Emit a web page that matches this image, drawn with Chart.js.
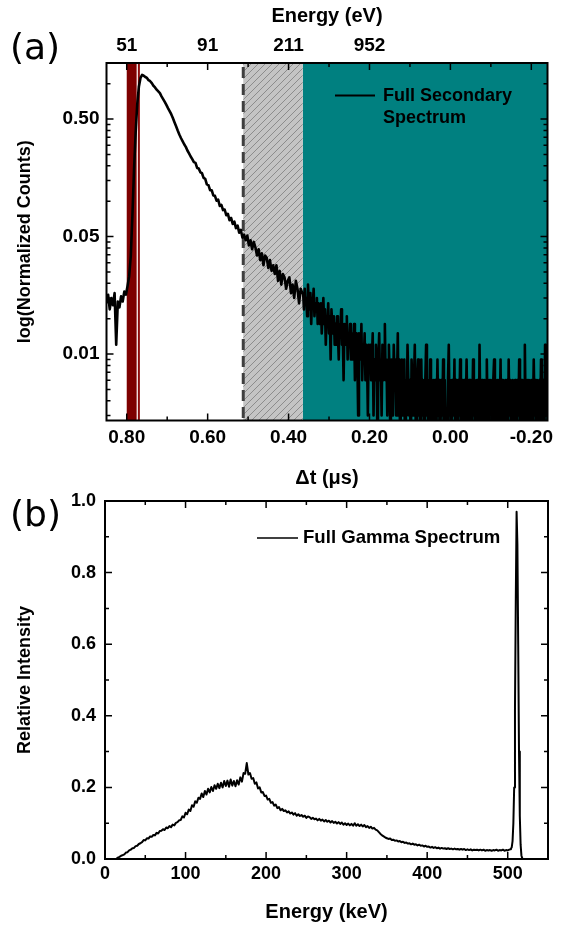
<!DOCTYPE html>
<html>
<head>
<meta charset="utf-8">
<script src="https://cdn.jsdelivr.net/npm/chart.js@4.4.1/dist/chart.umd.min.js"></script>
<style>
  html, body { margin: 0; padding: 0; background: #fff; width: 569px; height: 925px; overflow: hidden; }
  #wa { position: absolute; left: 0; top: 0; width: 569px; height: 490px; }
  #wb { position: absolute; left: 0; top: 490px; width: 569px; height: 435px; }
  .lbl { position: absolute; left: 10px; font-family: "DejaVu Sans", sans-serif; font-size: 36px; line-height: 36px; color: #000; }
</style>
</head>
<body>
<div id="wa"><canvas id="ca"></canvas></div>
<div id="wb"><canvas id="cb"></canvas></div>
<div class="lbl" style="top:29px">(a)</div>
<div class="lbl" style="top:496px">(b)</div>
<script>
// ---------------- Panel (a) data ----------------
// head: 0.85 -> 0.366 µs every 0.004 µs
const T_START = 0.85, T_STEP = -0.004;
const secValues = [
  0.0135,0.0160,0.0120,0.0150,0.0130,0.0165,0.0060,0.0140,0.0125,0.0155,
  0.0140,0.0170,0.0160,0.019,0.023,0.034,0.075,0.184,0.38,0.67,
  0.94,1.12,1.19,1.17,1.14,1.12,1.07,1.05,1.01,0.96,
  0.93,0.89,0.86,0.83,0.78,0.74,0.70,0.66,0.62,0.585,
  0.55,0.51,0.47,0.435,0.40,0.37,0.345,0.325,0.305,0.29,
  0.27,0.255,0.24,0.228,0.215,0.212,0.192,0.190,0.176,0.173,
  0.158,0.155,0.139,0.137,0.124,0.124,0.112,0.111,0.101,0.103,
  0.091,0.093,0.084,0.085,0.076,0.078,0.069,0.072,0.064,0.067,
  0.059,0.062,0.054,0.057,0.049,0.052,0.0465,0.051,0.042,0.0465,
  0.039,0.045,0.0405,0.0345,0.039,0.0315,0.036,0.0285,0.0345,0.033,
  0.027,0.0315,0.0255,0.0285,0.024,0.0285,0.021,0.0255,0.0195,0.024,
  0.0225,0.018,0.021,0.0225,0.0165,0.0195,0.015,0.021,0.018,0.0135,
  0.018,0.0165
];
// tail: 0.364 -> -0.25 µs every 0.002 µs (low-count, noisy part)
const TAIL_START = 0.364, TAIL_STEP = -0.002;
const tailValues = [
  0.0165,0.012,0.018,0.0135,0.015,0.0105,0.0195,0.0135,0.012,0.0165,0.009,0.015,0.0135,0.018,0.0105,0.0135,0.012,0.015,0.009,0.0135,
  0.012,0.009,0.0135,0.0075,0.0105,0.015,0.009,0.012,0.006,0.0105,0.009,0.0135,0.0075,0.0105,0.0045,0.012,0.009,0.0075,0.0105,0.006,
  0.009,0.006,0.0105,0.0075,0.0045,0.009,0.0075,0.012,0.006,0.0075,0.003,0.009,0.006,0.0075,0.0105,0.0045,0.0075,0.006,0.009,0.0045,
  0.0075,0.0045,0.006,0.009,0.003,0.006,0.0075,0.0045,0.0015,0.0075,0.006,0.0045,0.009,0.003,0.006,0.0045,0.0075,0.003,0.006,0.0045,0.0015,0.006,0.0045,
  0.006,0.003,0.0045,0.0075,0.0015,0.0045,0.003,0.006,0.0045,0.0005,0.0045,0.0075,0.003,0.0045,0.0015,0.006,0.003,0.0045,0.009,0.003,
  0.0045,0.0015,0.003,0.006,0.003,0.0005,0.0045,0.003,0.0015,0.006,0.003,0.0045,0.0015,0.003,0.0075,0.0015,0.0045,0.0005,0.003,0.0045,
  0.0015,0.003,0.0045,0.0005,0.003,0.0015,0.006,0.003,0.0015,0.003,0.0005,0.0045,0.003,0.0015,0.003,0.006,0.0015,0.0005,0.003,0.0045,
  0.0015,0.003,0.0005,0.0045,0.0015,0.003,0.0015,0.0005,0.003,0.006,0.0015,0.003,0.0005,0.0015,0.0045,0.003,0.0015,0.0005,0.003,0.0015,
  0.003,0.0005,0.0015,0.0045,0.0015,0.003,0.0005,0.0015,0.003,0.0015,0.0045,0.0005,0.003,0.0015,0.0015,0.0005,0.003,0.006,0.0015,0.003,
  0.0005,0.003,0.0015,0.0015,0.0045,0.0005,0.003,0.0015,0.0005,0.003,0.0015,0.0045,0.0015,0.0005,0.003,0.0015,0.003,0.0005,0.0015,0.0045,
  0.0015,0.0005,0.003,0.0015,0.003,0.0005,0.0015,0.0045,0.0015,0.003,0.0005,0.0015,0.003,0.0015,0.0005,0.006,0.0015,0.003,0.0005,0.003,
  0.0015,0.003,0.0005,0.0015,0.0045,0.0015,0.0005,0.003,0.0015,0.003,0.0015,0.0005,0.003,0.0045,0.0015,0.0005,0.0015,0.003,0.0005,0.003,
  0.0015,0.0045,0.0005,0.003,0.0015,0.0015,0.0005,0.003,0.0015,0.003,0.0005,0.0045,0.0015,0.003,0.0015,0.0005,0.003,0.0015,0.0005,0.003,
  0.0015,0.0005,0.003,0.0015,0.0045,0.0015,0.0005,0.003,0.003,0.0005,0.0015,0.006,0.0015,0.0005,0.003,0.0015,0.003,0.0005,0.0015,0.003,
  0.0005,0.0015,0.0045,0.0015,0.003,0.0005,0.003,0.0015,0.0005,0.003,0.0015,0.0045,0.0005,0.0015,0.003,0.0005,0.006,0.0015,0.003,0.0015,
  0.0005,0.003,0.0015,0.0045,0.0015
];
const T_MIN = -0.24, T_MAX = 0.85;
const Y_MIN_A = 0.00136, Y_MAX_A = 1.5;
const dtTicks = [0.8, 0.6, 0.4, 0.2, 0.0, -0.2];
const dtLabels = ['0.80', '0.60', '0.40', '0.20', '0.00', '-0.20'];
const dtMinor = [0.7, 0.5, 0.3, 0.1, -0.1];
const energyTicks = [0.8, 0.6, 0.4, 0.2];
const energyLabels = ['51', '91', '211', '952'];
const countTicks = [0.5, 0.05, 0.005];
const countLabels = ['0.50', '0.05', '0.01'];
const countMinor = [1.0, 0.45, 0.4, 0.35, 0.3, 0.25, 0.2, 0.15, 0.1,
                    0.045, 0.04, 0.035, 0.03, 0.025, 0.02, 0.015, 0.01,
                    0.0045, 0.004, 0.0035, 0.003, 0.0025, 0.002, 0.0015];
// region boundaries (µs)
const redWide = [0.800, 0.7755];
const redThin = [0.7725, 0.7675];
const dashedAt = 0.512;
const hatchSpan = [0.512, 0.365];
const tealSpan = [0.365, T_MIN];

// ---------------- Panel (b) data ----------------
const E_START = 14, E_STEP = 2;  // keV
const gammaI = [
  0.000,0.004,0.006,0.009,0.011,0.013,0.018,0.019,0.024,0.026,
  0.030,0.031,0.036,0.037,0.042,0.044,0.047,0.053,0.052,0.058,
  0.057,0.063,0.062,0.067,0.066,0.073,0.071,0.078,0.079,0.083,
  0.081,0.088,0.086,0.092,0.089,0.096,0.094,0.101,0.103,0.108,
  0.109,0.119,0.116,0.129,0.125,0.138,0.134,0.150,0.146,0.161,
  0.157,0.171,0.168,0.183,0.173,0.190,0.180,0.196,0.186,0.201,
  0.190,0.206,0.196,0.210,0.198,0.213,0.200,0.218,0.204,0.219,
  0.202,0.222,0.205,0.218,0.203,0.220,0.208,0.228,0.216,0.240,
  0.238,0.268,0.236,0.240,0.224,0.226,0.210,0.214,0.197,0.200,
  0.186,0.187,0.176,0.177,0.166,0.168,0.157,0.159,0.149,0.152,
  0.142,0.145,0.136,0.140,0.134,0.136,0.130,0.133,0.127,0.130,
  0.124,0.128,0.121,0.125,0.120,0.123,0.118,0.121,0.115,0.119,
  0.117,0.112,0.115,0.111,0.113,0.108,0.112,0.107,0.110,0.105,
  0.109,0.104,0.107,0.102,0.106,0.101,0.104,0.099,0.103,0.098,
  0.102,0.096,0.100,0.095,0.099,0.094,0.098,0.093,0.100,0.093,
  0.097,0.092,0.096,0.091,0.095,0.089,0.092,0.087,0.090,0.085,
  0.087,0.082,0.080,0.075,0.070,0.066,0.063,0.060,0.058,0.056,
  0.057,0.053,0.054,0.051,0.052,0.049,0.050,0.047,0.048,0.045,
  0.046,0.043,0.044,0.041,0.043,0.040,0.041,0.038,0.040,0.037,
  0.038,0.035,0.037,0.034,0.035,0.032,0.034,0.031,0.033,0.030,
  0.032,0.029,0.031,0.029,0.030,0.028,0.030,0.028,0.029,0.027,
  0.029,0.027,0.028,0.026,0.028,0.026,0.028,0.025,0.027,0.025,
  0.027,0.024,0.026,0.025,0.026,0.024,0.026,0.024,0.026,0.023,
  0.025,0.024,0.025,0.023,0.025,0.024,0.026,0.023,0.025,0.024,
  0.026,0.023,0.025,0.024,0.026
];
const peakE = [503,504,505,506,507,508,509,510,511,512,513,514,515,516,517,518,519,520];
const peakI = [0.027,0.029,0.033,0.050,0.100,0.200,0.420,0.720,0.970,0.880,0.600,0.300,0.120,0.040,0.010,0.002,0.000,0.000];
const keVTicks = [0, 100, 200, 300, 400, 500];
const keVMinor = [50, 150, 250, 350, 450];
const intTicks = [0, 0.2, 0.4, 0.6, 0.8, 1.0];
const intMinor = [0.1, 0.3, 0.5, 0.7, 0.9];

// ---------------- helpers ----------------
const FONT = '"Liberation Sans", Arial, sans-serif';
const TEAL = '#008080';

function makeHatch() {
  const c = document.createElement('canvas');
  c.width = 7; c.height = 7;
  const g = c.getContext('2d');
  g.fillStyle = '#c4c4c4'; g.fillRect(0, 0, 7, 7);
  g.strokeStyle = '#8c8c8c'; g.lineWidth = 1;
  g.beginPath(); g.moveTo(-1, 8); g.lineTo(8, -1); g.stroke();
  return c;
}

// keep the plot area exactly where afterFit puts it
function noPad(s) { s.paddingTop = 0; s.paddingBottom = 0; s.paddingLeft = 0; s.paddingRight = 0; }

function frameTicks(cfg) {
  return {
    id: 'frameTicks',
    afterDatasetsDraw(chart) {
      const { ctx, chartArea: a } = chart;
      const xs = chart.scales.x, ys = chart.scales.y;
      ctx.save();
      ctx.strokeStyle = '#000';
      ctx.lineWidth = 1.5;
      ctx.beginPath();
      const hx = (vals, len) => vals.forEach(v => {
        const p = xs.getPixelForValue(v);
        if (p < a.left - 0.5 || p > a.right + 0.5) return;
        ctx.moveTo(p, a.bottom); ctx.lineTo(p, a.bottom - len);
        ctx.moveTo(p, a.top); ctx.lineTo(p, a.top + len);
      });
      const vy = (vals, len) => vals.forEach(v => {
        const p = ys.getPixelForValue(v);
        if (p < a.top - 0.5 || p > a.bottom + 0.5) return;
        ctx.moveTo(a.left, p); ctx.lineTo(a.left + len, p);
        ctx.moveTo(a.right, p); ctx.lineTo(a.right - len, p);
      });
      hx(cfg.xMajor, 7); hx(cfg.xMinor, 4);
      vy(cfg.yMajor, 7); vy(cfg.yMinor, 4);
      ctx.stroke();
      ctx.lineWidth = 2;
      ctx.strokeRect(a.left, a.top, a.right - a.left, a.bottom - a.top);
      cfg.legend(ctx, chart);
      ctx.restore();
    }
  };
}

// ---------------- Chart (a) ----------------
const secPts = secValues.map((v, i) => ({ x: +(T_START + i * T_STEP).toFixed(4), y: v }))
  .concat(tailValues.map((v, i) => ({ x: +(TAIL_START + i * TAIL_STEP).toFixed(4), y: v })));

const regionsA = {
  id: 'regionsA',
  beforeDatasetsDraw(chart) {
    const { ctx, chartArea: a, scales: { x } } = chart;
    const band = (span, style) => {
      const x1 = x.getPixelForValue(span[0]), x2 = x.getPixelForValue(span[1]);
      ctx.fillStyle = style;
      ctx.fillRect(Math.min(x1, x2), a.top, Math.abs(x2 - x1), a.bottom - a.top);
    };
    ctx.save();
    ctx.beginPath(); ctx.rect(a.left, a.top, a.right - a.left, a.bottom - a.top); ctx.clip();
    band(tealSpan, TEAL);
    band(hatchSpan, ctx.createPattern(makeHatch(), 'repeat'));
    band(redWide, '#7d0000');
    band(redThin, '#8e0b0b');
    const dx = x.getPixelForValue(dashedAt);
    ctx.strokeStyle = '#3f3f3f'; ctx.lineWidth = 3; ctx.setLineDash([11, 6]);
    ctx.beginPath(); ctx.moveTo(dx, a.top + 4); ctx.lineTo(dx, a.bottom); ctx.stroke();
    ctx.restore();
  }
};

const legendA = (ctx, chart) => {
  const ds = chart.data.datasets[0];
  ctx.strokeStyle = ds.borderColor; ctx.lineWidth = 2; ctx.setLineDash([]);
  ctx.beginPath(); ctx.moveTo(335, 95.5); ctx.lineTo(375, 95.5); ctx.stroke();
  ctx.fillStyle = '#000'; ctx.font = 'bold 18px ' + FONT; ctx.textBaseline = 'middle'; ctx.textAlign = 'left';
  const words = ds.label.split(' ');
  ctx.fillText(words.slice(0, 2).join(' '), 383, 96);
  ctx.fillText(words.slice(2).join(' '), 383, 118);
};

new Chart(document.getElementById('ca'), {
  type: 'line',
  data: { datasets: [{ label: 'Full Secondary Spectrum', data: secPts, borderColor: '#000', borderWidth: 2.6,
                       borderJoinStyle: 'round', pointRadius: 0, tension: 0, fill: false }] },
  options: {
    responsive: true, maintainAspectRatio: false, animation: false, devicePixelRatio: 1,
    layout: { padding: { left: 0, right: 21.5, top: 0, bottom: 0 } },
    plugins: { legend: { display: false }, tooltip: { enabled: false } },
    scales: {
      x: {
        type: 'linear', position: 'bottom', min: T_MIN, max: T_MAX, reverse: true,
        afterBuildTicks: s => { s.ticks = dtTicks.map(v => ({ value: v })); },
        afterFit: s => { s.height = 69.5; noPad(s); },
        grid: { display: false, drawTicks: false }, border: { display: false },
        ticks: { color: '#000', font: { family: FONT, size: 19, weight: 'bold' }, padding: 6, maxRotation: 0, autoSkip: false,
                 callback: (v, i) => dtLabels[i] },
        title: { display: true, text: 'Δt (μs)', color: '#000', font: { family: FONT, size: 20, weight: 'bold' }, padding: { top: 0, bottom: 0 } }
      },
      xTop: {
        type: 'linear', position: 'top', min: T_MIN, max: T_MAX, reverse: true,
        afterBuildTicks: s => { s.ticks = energyTicks.map(v => ({ value: v })); },
        afterFit: s => { s.height = 63; noPad(s); },
        grid: { display: false, drawTicks: false }, border: { display: false },
        ticks: { color: '#000', font: { family: FONT, size: 19, weight: 'bold' }, padding: 6, maxRotation: 0, autoSkip: false,
                 callback: (v, i) => energyLabels[i] },
        title: { display: true, text: 'Energy (eV)', color: '#000', font: { family: FONT, size: 20, weight: 'bold' }, padding: { top: 4, bottom: 0 } }
      },
      y: {
        type: 'logarithmic', position: 'left', min: Y_MIN_A, max: Y_MAX_A,
        afterBuildTicks: s => { s.ticks = countTicks.map(v => ({ value: v })); },
        afterFit: s => { s.width = 106.5; noPad(s); },
        grid: { display: false, drawTicks: false }, border: { display: false },
        ticks: { color: '#000', font: { family: FONT, size: 19, weight: 'bold' }, padding: 7, autoSkip: false,
                 callback: (v, i) => countLabels[i] },
        title: { display: true, text: 'log(Normalized Counts)', color: '#000', font: { family: FONT, size: 18, weight: 'bold' }, padding: { top: 14, bottom: 0 } }
      }
    }
  },
  plugins: [regionsA, frameTicks({ xMajor: dtTicks, xMinor: dtMinor, yMajor: countTicks, yMinor: countMinor, legend: legendA })]
});

// ---------------- Chart (b) ----------------
const gamPts = gammaI.map((v, i) => ({ x: E_START + i * E_STEP, y: v }))
  .concat(peakE.map((e, i) => ({ x: e, y: peakI[i] })));

const legendB = (ctx, chart) => {
  const ds = chart.data.datasets[0];
  ctx.strokeStyle = ds.borderColor; ctx.lineWidth = 1.5; ctx.setLineDash([]);
  ctx.beginPath(); ctx.moveTo(257, 48); ctx.lineTo(298, 48); ctx.stroke();
  ctx.fillStyle = '#000'; ctx.font = 'bold 18.6px ' + FONT; ctx.textBaseline = 'middle'; ctx.textAlign = 'left';
  ctx.fillText(ds.label, 303, 48);
};

new Chart(document.getElementById('cb'), {
  type: 'line',
  data: { datasets: [{ label: 'Full Gamma Spectrum', data: gamPts, borderColor: '#000', borderWidth: 2,
                       borderJoinStyle: 'round', pointRadius: 0, tension: 0, fill: false }] },
  options: {
    responsive: true, maintainAspectRatio: false, animation: false, devicePixelRatio: 1,
    layout: { padding: { left: 0, right: 21, top: 11, bottom: 0 } },
    plugins: { legend: { display: false }, tooltip: { enabled: false } },
    scales: {
      x: {
        type: 'linear', position: 'bottom', min: 0, max: 550,
        afterBuildTicks: s => { s.ticks = keVTicks.map(v => ({ value: v })); },
        afterFit: s => { s.height = 66; noPad(s); },
        grid: { display: false, drawTicks: false }, border: { display: false },
        ticks: { color: '#000', font: { family: FONT, size: 18, weight: 'bold' }, padding: 4, maxRotation: 0, autoSkip: false,
                 callback: (v, i) => String(keVTicks[i]) },
        title: { display: true, text: 'Energy (keV)', color: '#000', font: { family: FONT, size: 20, weight: 'bold' }, padding: { top: 0, bottom: 1 } }
      },
      y: {
        type: 'linear', position: 'left', min: 0, max: 1.0,
        afterBuildTicks: s => { s.ticks = intTicks.map(v => ({ value: v })); },
        afterFit: s => { s.width = 105; noPad(s); },
        grid: { display: false, drawTicks: false }, border: { display: false },
        ticks: { color: '#000', font: { family: FONT, size: 18, weight: 'bold' }, padding: 9, autoSkip: false,
                 callback: (v, i) => intTicks[i].toFixed(1) },
        title: { display: true, text: 'Relative Intensity', color: '#000', font: { family: FONT, size: 18, weight: 'bold' }, padding: { top: 14, bottom: 0 } }
      }
    }
  },
  plugins: [frameTicks({ xMajor: keVTicks, xMinor: keVMinor, yMajor: intTicks, yMinor: intMinor, legend: legendB })]
});
</script>
</body>
</html>
